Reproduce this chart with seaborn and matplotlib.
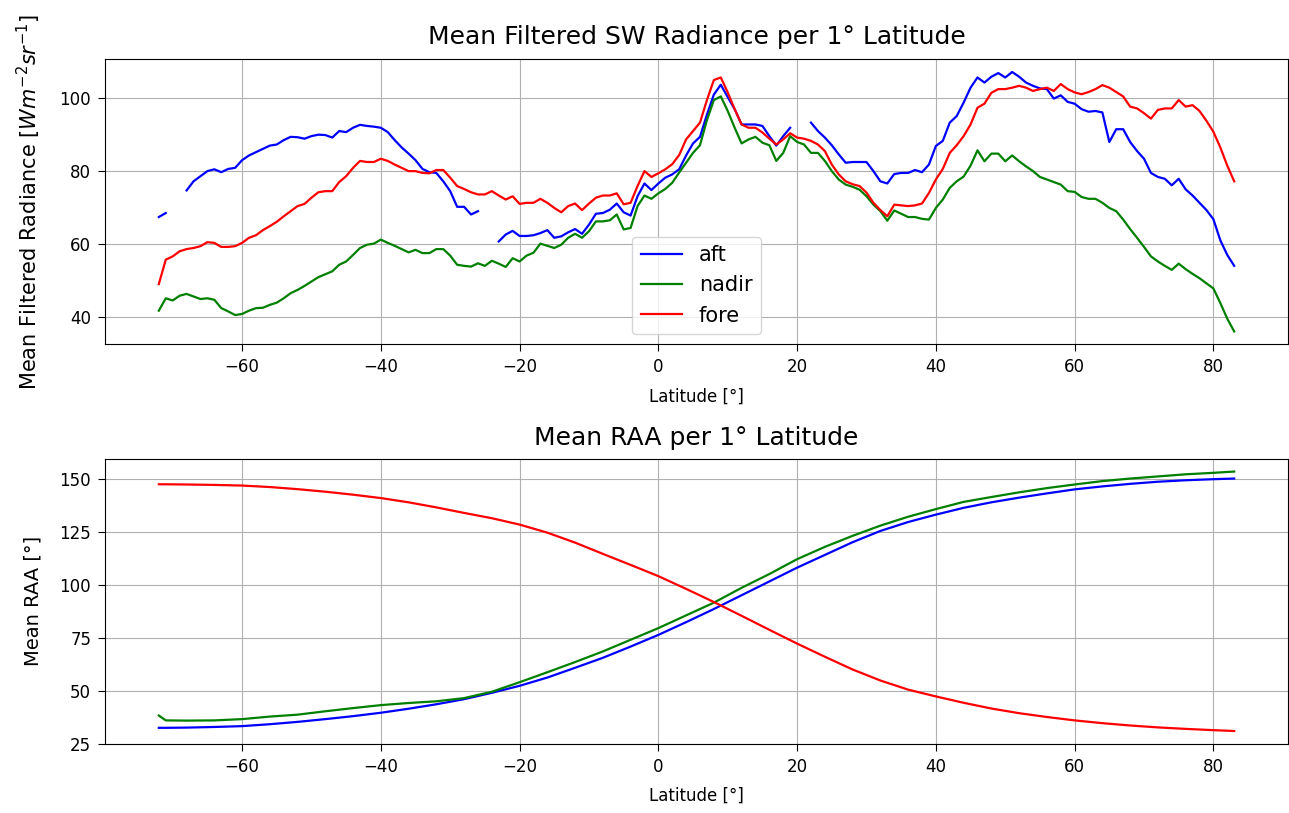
import numpy as np
import pandas as pd
import matplotlib
matplotlib.use("Agg")
import matplotlib.pyplot as plt
from matplotlib.ticker import MultipleLocator
import seaborn as sns

# ---- Mean filtered SW radiance, one value per 1 degree latitude band ----
lat = np.arange(-72, 84)

rad_aft = [
    67.4, 68.5, np.nan, np.nan, 74.7, 77.2, 78.6, 80.0, 80.5, 79.7,
    80.6, 80.9, 83.0, 84.3, 85.2, 86.1, 87.0, 87.3, 88.5, 89.4,
    89.3, 88.9, 89.6, 90.0, 89.9, 89.2, 91.0, 90.7, 91.9, 92.7,
    92.4, 92.2, 91.9, 90.7, 88.5, 86.5, 84.8, 83.0, 80.6, 79.7,
    79.5, 77.2, 74.5, 70.2, 70.2, 68.1, 69.0, np.nan, np.nan, 60.7,
    62.6, 63.6, 62.2, 62.2, 62.4, 63.0, 63.8, 61.7, 62.1, 63.2,
    64.1, 62.8, 65.3, 68.3, 68.5, 69.4, 71.1, 68.7, 67.8, 73.1,
    76.6, 74.8, 76.6, 78.2, 79.1, 80.5, 84.3, 87.6, 89.4, 95.5,
    101.0, 103.7, 100.3, 97.0, 92.8, 92.8, 92.8, 92.4, 89.6, 87.0,
    89.6, 91.9, np.nan, np.nan, 93.3, 91.0, 89.2, 87.1, 84.6, 82.3,
    82.5, 82.5, 82.5, 80.0, 77.2, 76.6, 79.2, 79.5, 79.5, 80.3,
    79.7, 81.8, 86.9, 88.3, 93.3, 95.1, 98.8, 102.9, 105.7, 104.3,
    105.9, 106.9, 105.7, 107.2, 105.9, 104.3, 103.4, 102.7, 102.5, 99.9,
    100.8, 99.0, 98.5, 97.0, 96.3, 96.5, 96.1, 88.0, 91.5, 91.5,
    88.0, 85.5, 83.4, 79.5, 78.4, 77.9, 76.1, 77.9, 75.0, 73.3,
    71.3, 69.3, 66.8, 61.0, 57.0, 54.0,
]

rad_nadir = [
    41.7, 45.1, 44.5, 45.8, 46.3, 45.6, 44.9, 45.1, 44.7, 42.4,
    41.5, 40.5, 40.8, 41.7, 42.4, 42.5, 43.3, 43.9, 45.1, 46.5,
    47.4, 48.5, 49.7, 50.9, 51.7, 52.5, 54.3, 55.2, 57.0, 58.9,
    59.8, 60.1, 61.2, 60.3, 59.5, 58.6, 57.7, 58.4, 57.5, 57.5,
    58.6, 58.6, 56.8, 54.3, 54.0, 53.8, 54.7, 54.0, 55.4, 54.6,
    53.7, 56.1, 55.2, 56.8, 57.6, 60.1, 59.5, 58.9, 59.8, 61.7,
    62.8, 61.7, 63.5, 66.2, 66.2, 66.5, 68.1, 64.0, 64.4, 70.4,
    73.3, 72.4, 73.9, 75.1, 76.8, 79.6, 82.3, 85.0, 87.1, 94.0,
    99.5, 100.5, 96.5, 91.9, 87.6, 88.7, 89.4, 87.8, 87.1, 82.8,
    85.0, 89.6, 88.0, 87.3, 85.0, 85.0, 82.8, 80.0, 77.7, 76.3,
    75.7, 74.9, 73.1, 70.8, 69.0, 66.4, 69.2, 68.3, 67.4, 67.4,
    66.9, 66.7, 69.9, 72.2, 75.4, 77.2, 78.5, 81.5, 85.7, 82.7,
    84.8, 84.8, 82.7, 84.3, 82.7, 81.3, 80.0, 78.4, 77.7, 77.0,
    76.3, 74.5, 74.3, 72.9, 72.4, 72.4, 71.3, 69.9, 69.0, 66.7,
    64.1, 61.7, 59.2, 56.6, 55.2, 54.0, 52.9, 54.6, 53.1, 51.8,
    50.6, 49.2, 47.8, 43.8, 39.5, 36.0,
]

rad_fore = [
    49.0, 55.7, 56.6, 58.0, 58.6, 58.9, 59.4, 60.5, 60.3, 59.2,
    59.2, 59.4, 60.3, 61.7, 62.4, 63.8, 64.9, 66.1, 67.6, 69.0,
    70.4, 71.0, 72.7, 74.2, 74.5, 74.5, 77.0, 78.6, 80.9, 82.8,
    82.5, 82.5, 83.4, 82.8, 81.8, 80.9, 80.0, 80.0, 79.5, 79.4,
    80.3, 80.3, 78.2, 75.9, 75.1, 74.2, 73.6, 73.6, 74.5, 73.3,
    72.2, 73.1, 71.0, 71.3, 71.3, 72.4, 71.3, 69.9, 68.7, 70.4,
    71.1, 69.3, 71.1, 72.7, 73.3, 73.3, 73.9, 70.9, 71.3, 75.9,
    80.0, 78.4, 79.4, 80.5, 81.9, 84.4, 88.7, 91.0, 93.3, 99.5,
    105.0, 105.7, 101.6, 97.0, 92.8, 91.9, 91.9, 90.6, 88.9, 87.3,
    88.7, 90.4, 89.2, 88.9, 88.3, 87.3, 85.5, 81.8, 79.1, 77.2,
    76.4, 75.9, 74.1, 71.3, 69.3, 67.6, 70.8, 70.6, 70.4, 70.6,
    71.1, 74.0, 77.7, 80.6, 85.0, 87.1, 89.6, 92.8, 97.4, 98.5,
    101.5, 102.5, 102.5, 102.9, 103.4, 102.9, 102.0, 102.5, 102.9, 102.0,
    103.9, 102.5, 101.6, 101.1, 101.7, 102.5, 103.6, 102.9, 101.7, 100.5,
    97.7, 97.2, 95.9, 94.4, 96.8, 97.2, 97.2, 99.5, 97.7, 98.1,
    96.5, 93.8, 90.8, 86.5, 81.5, 77.2,
]

# ---- Mean relative azimuth angle per latitude ----
raa_lat = [-72, -71, -68, -64, -60, -56, -52, -48, -44, -40, -36, -32, -28,
           -24, -20, -16, -12, -8, -4, 0, 4, 8, 12, 16, 20, 24, 28, 32, 36,
           40, 44, 48, 52, 56, 60, 64, 68, 72, 76, 80, 83]

raa_aft = [32.5, 32.5, 32.6, 32.9, 33.3, 34.2, 35.3, 36.6, 38.0, 39.6, 41.5,
           43.6, 46.0, 49.0, 52.3, 56.2, 60.8, 65.5, 70.8, 76.3, 82.3, 88.5,
           95.0, 101.5, 108.0, 114.0, 120.0, 125.3, 129.5, 133.0, 136.2,
           138.8, 141.0, 143.0, 144.9, 146.3, 147.5, 148.5, 149.2, 149.7, 150.0]

raa_nadir = [38.3, 36.0, 35.9, 36.0, 36.6, 37.8, 38.7, 40.3, 41.8, 43.2, 44.2,
             45.0, 46.5, 49.5, 54.0, 58.7, 63.5, 68.5, 74.0, 79.5, 85.5, 91.5,
             98.5, 105.0, 112.0, 117.8, 123.0, 127.8, 132.0, 135.6, 139.0,
             141.3, 143.5, 145.5, 147.2, 148.8, 150.0, 151.0, 152.0, 152.7, 153.3]

raa_fore = [147.3, 147.3, 147.2, 147.0, 146.7, 146.0, 145.0, 143.8, 142.4,
            140.8, 138.8, 136.4, 133.8, 131.3, 128.3, 124.5, 119.8, 114.5,
            109.3, 104.0, 98.0, 91.8, 85.3, 78.7, 72.2, 66.0, 60.0, 54.8,
            50.5, 47.3, 44.3, 41.6, 39.4, 37.6, 36.0, 34.7, 33.6, 32.7, 32.0,
            31.4, 31.0]

views = ["aft", "nadir", "fore"]
palette = {"aft": "blue", "nadir": "green", "fore": "red"}

# long-form tables; missing latitude bands split a view into separate segments
frames = []
for name, vals in zip(views, [rad_aft, rad_nadir, rad_fore]):
    v = np.asarray(vals, dtype=float)
    seg = np.cumsum(np.isnan(v))
    d = pd.DataFrame({"lat": lat, "rad": v, "view": name,
                      "seg": [f"{name}{s}" for s in seg]})
    frames.append(d.dropna())
rad_df = pd.concat(frames, ignore_index=True)

raa_df = pd.concat(
    [pd.DataFrame({"lat": raa_lat, "raa": vals, "view": name})
     for name, vals in zip(views, [raa_aft, raa_nadir, raa_fore])],
    ignore_index=True)

TICK_FS = 12
XLABEL_FS = 12
YLABEL_FS = 14
LEGEND_FS = 15
TITLE_FS = 18
plt.rcParams.update({
    "font.family": ["DejaVu Sans"],
    "xtick.labelsize": TICK_FS, "ytick.labelsize": TICK_FS,
    "xtick.major.size": 5, "ytick.major.size": 5,
    "xtick.major.pad": 5, "ytick.major.pad": 5,
})

fig, (ax1, ax2) = plt.subplots(2, 1, figsize=(12.89, 8.13), dpi=100)
fig.subplots_adjust(left=0.0815, right=0.9992, top=0.9274, bottom=0.0849,
                    hspace=0.40)

sns.lineplot(data=rad_df, x="lat", y="rad", hue="view", hue_order=views,
             units="seg", estimator=None, palette=palette, linewidth=1.6,
             ax=ax1)
sns.move_legend(ax1, "lower center", title=None, fontsize=LEGEND_FS)
ax1.set_title("Mean Filtered SW Radiance per 1° Latitude", fontsize=TITLE_FS,
              pad=11)
ax1.set_xlabel("Latitude [°]", fontsize=XLABEL_FS, labelpad=8)
ax1.set_ylabel(r"Mean Filtered Radiance [$Wm^{-2}sr^{-1}$]",
               fontsize=YLABEL_FS + 1, labelpad=12)
ax1.yaxis.set_major_locator(MultipleLocator(20))
ax1.grid(True)

sns.lineplot(data=raa_df, x="lat", y="raa", hue="view", hue_order=views,
             palette=palette, linewidth=1.6, legend=False, ax=ax2)
ax2.set_title("Mean RAA per 1° Latitude", fontsize=TITLE_FS, pad=10)
ax2.set_xlabel("Latitude [°]", fontsize=XLABEL_FS, labelpad=8)
ax2.set_ylabel("Mean RAA [°]", fontsize=YLABEL_FS, labelpad=12)
ax2.yaxis.set_major_locator(MultipleLocator(25))
ax2.grid(True)

fig.savefig("out.png", dpi=100)
